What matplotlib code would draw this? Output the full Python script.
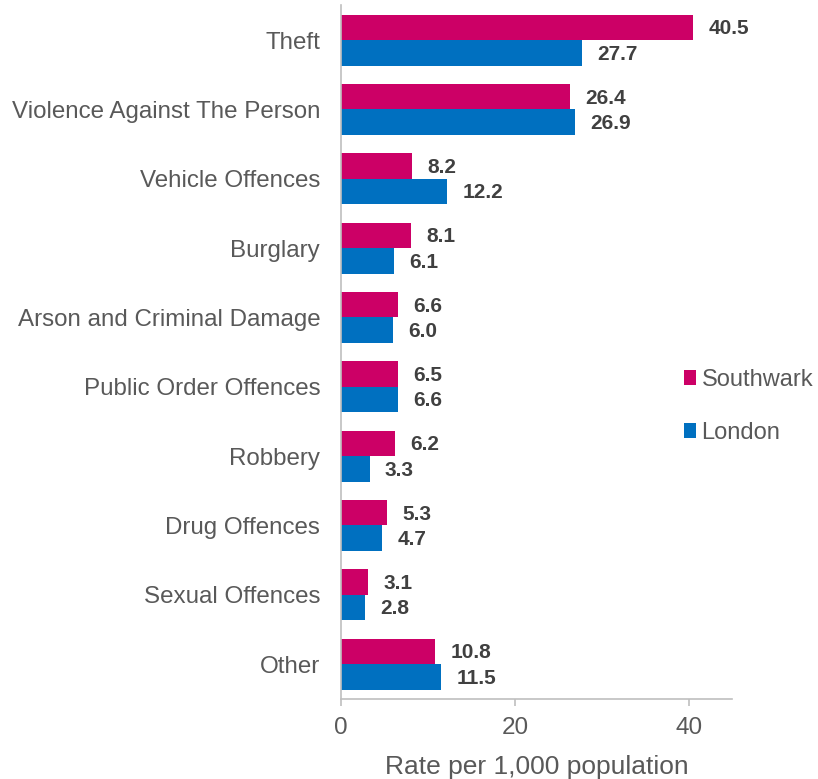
import matplotlib
matplotlib.use("Agg")
import matplotlib.pyplot as plt
import numpy as np

categories = ["Theft", "Violence Against The Person", "Vehicle Offences", "Burglary",
              "Arson and Criminal Damage", "Public Order Offences", "Robbery",
              "Drug Offences", "Sexual Offences", "Other"]
southwark = [40.5, 26.4, 8.2, 8.1, 6.6, 6.5, 6.2, 5.3, 3.1, 10.8]
london = [27.7, 26.9, 12.2, 6.1, 6.0, 6.6, 3.3, 4.7, 2.8, 11.5]
series_names = ["Southwark", "London"]
x_ticks = [0, 20, 40]
x_label = "Rate per 1,000 population"

plt.rcParams["font.family"] = ["Liberation Sans", "DejaVu Sans"]

PINK = "#CC0066"
BLUE = "#0070C0"
AXIS_GREY = "#BFBFBF"
TEXT_GREY = "#595959"
LABEL_DARK = "#404040"

fig = plt.figure(figsize=(8.18, 7.79), dpi=100)
ax = fig.add_axes([0.4169, 0.1031, 0.4781, 0.8899])

y = np.arange(len(categories))
h = 0.368
bars_s = ax.barh(y - h / 2, southwark, height=h, color=PINK, label=series_names[0])
bars_l = ax.barh(y + h / 2, london, height=h, color=BLUE, label=series_names[1])

for bars, vals in ((bars_s, southwark), (bars_l, london)):
    for b, v in zip(bars, vals):
        ax.annotate(f"{v:.1f}", xy=(b.get_width(), b.get_y() + b.get_height() / 2),
                    xytext=(11, -1), textcoords="offset points",
                    va="center", ha="left", fontsize=15, fontweight="bold",
                    color=LABEL_DARK)

ax.set_ylim(len(categories) - 0.5, -0.5)
ax.set_xlim(0, 45)
ax.set_yticks(y)
ax.set_yticklabels(categories, fontsize=17.4, color=TEXT_GREY)
ax.set_xticks(x_ticks)
ax.set_xticklabels([str(t) for t in x_ticks], fontsize=17.5, color=TEXT_GREY)
ax.set_xlabel(x_label, fontsize=19, color=TEXT_GREY, labelpad=12)

for s in ("top", "right"):
    ax.spines[s].set_visible(False)
for s in ("left", "bottom"):
    ax.spines[s].set_color(AXIS_GREY)
    ax.spines[s].set_linewidth(1.2)
ax.tick_params(axis="y", length=0, pad=15)
ax.tick_params(axis="x", length=5, color=AXIS_GREY, width=1.2, pad=8)

leg = fig.legend(handles=[bars_s, bars_l], labels=series_names,
                 loc="center left", bbox_to_anchor=(0.836, 0.478),
                 frameon=False, fontsize=17, handlelength=0.5, handleheight=0.6,
                 handletextpad=0.25, labelspacing=1.3, borderpad=0,
                 borderaxespad=0, labelcolor=TEXT_GREY)

fig.savefig("out.png", dpi=100)
